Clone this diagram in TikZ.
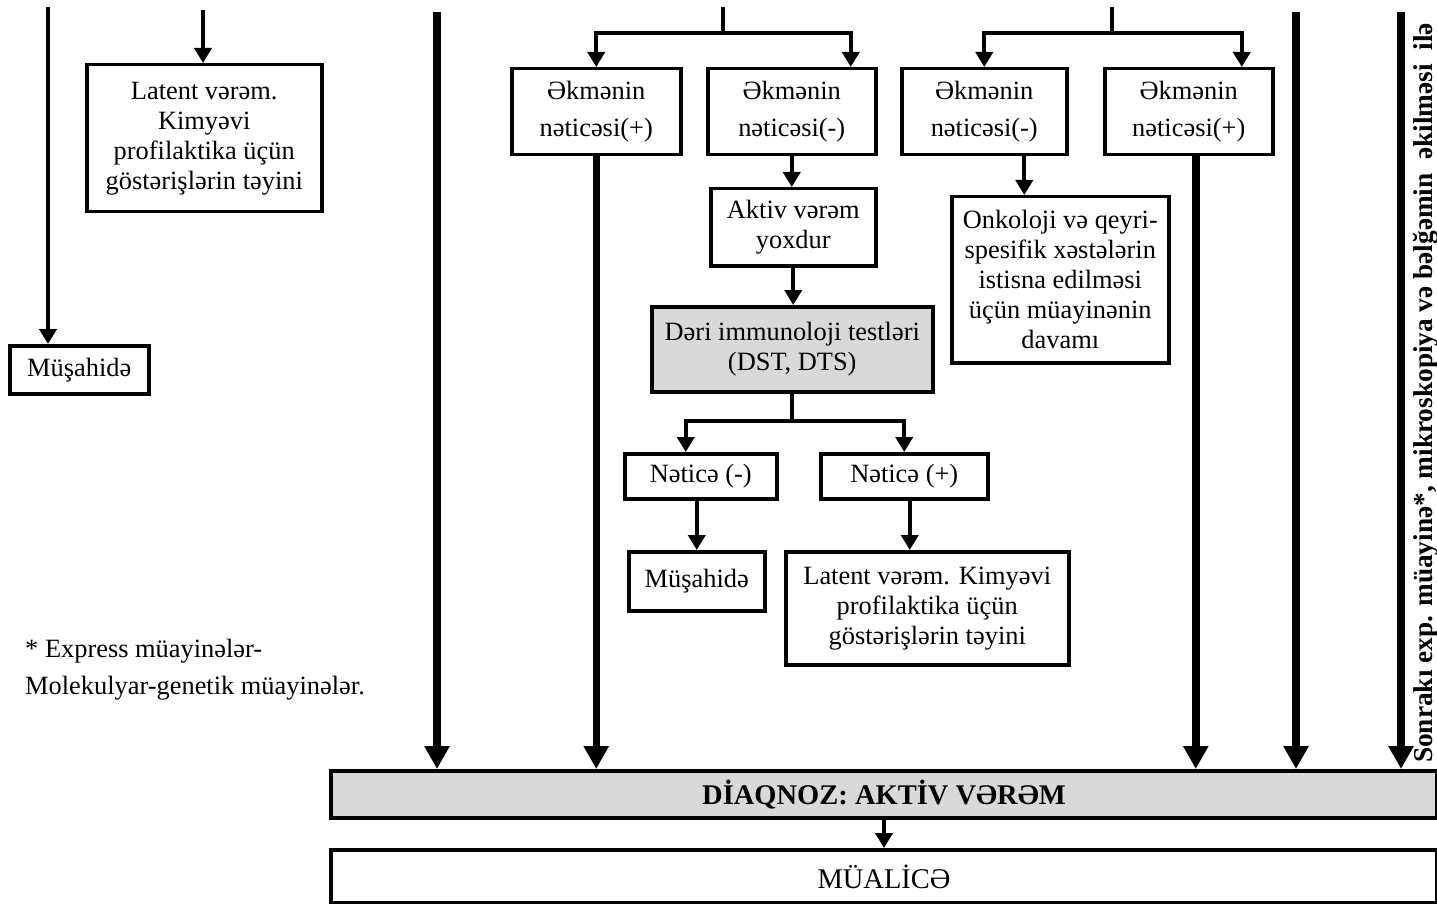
\documentclass[tikz,border=0pt]{standalone}
\usepackage{fontspec}
\setmainfont{Liberation Serif}
\usetikzlibrary{arrows.meta,calc}
\definecolor{boxgray}{HTML}{D9D9D9}
\begin{document}
\begin{tikzpicture}[x=1pt,y=-1pt,
 box/.style={draw, line width=3.5pt, inner sep=0pt, align=center, anchor=north west, font=\fontsize{26.4}{30}\selectfont},
 gbox/.style={box, fill=boxgray},
 twoline/.style={font=\fontsize{26.4}{37}\selectfont},
 thinarr/.style={line width=4pt, -{Triangle[width=17pt,length=15pt]}},
 thickarr/.style={line width=7.5pt, -{Triangle[width=24pt,length=23pt]}},
 plain/.style={line width=4pt},
]
\useasboundingbox (0,0) rectangle (1437,904);

% boxes
\node[box, twoline, minimum width=169, minimum height=86] (b1) at (510,67) {Əkmənin\\nəticəsi(+)};
\node[box, twoline, minimum width=168, minimum height=86] (b2) at (706,67) {Əkmənin\\nəticəsi(-)};
\node[box, twoline, minimum width=165, minimum height=86] (b3) at (900,67) {Əkmənin\\nəticəsi(-)};
\node[box, twoline, minimum width=168, minimum height=86] (b4) at (1103,67) {Əkmənin\\nəticəsi(+)};
\node[box, minimum width=235, minimum height=147] (lat1) at (85,63) {Latent vərəm.\\Kimyəvi\\profilaktika üçün\\göstərişlərin təyini};
\node[box, minimum width=139, minimum height=48] (mus1) at (8,344) {Müşahidə};
\node[box, minimum width=165, minimum height=77] (akt) at (709,187) {Aktiv vərəm\\yoxdur};
\node[box, minimum width=217, minimum height=166] (onk) at (950,195) {Onkoloji və qeyri-\\spesifik xəstələrin\\istisna edilməsi\\üçün müayinənin\\davamı};
\node[gbox, minimum width=281, minimum height=85] (der) at (650,305) {Dəri immunoloji testləri\\(DST, DTS)};
\node[box, minimum width=152, minimum height=45] (n1) at (623,452) {Nəticə (-)};
\node[box, minimum width=167, minimum height=45] (n2) at (819,452) {Nəticə (+)};
\node[box, minimum width=136, minimum height=59] (mus2) at (627,550) {Müşahidə};
\node[box, minimum width=283, minimum height=113] (lat2) at (784,550) {Latent vərəm. Kimyəvi\\profilaktika üçün\\göstərişlərin təyini};
\node[gbox, line width=4pt, minimum width=1106, minimum height=47, font=\fontsize{28.5}{32}\selectfont\bfseries] (diag) at (329,769) {DİAQNOZ: AKTİV VƏRƏM};
\node[box, line width=4pt, minimum width=1106, minimum height=53, font=\fontsize{28.5}{32}\selectfont] (mual) at (329,848) {MÜALİCƏ};

% footnote
\node[anchor=north west, align=left, inner sep=0pt, font=\fontsize{26.4}{37}\selectfont] (note) at (25,639) {* Express müayinələr-\\Molekulyar-genetik müayinələr.};

% side text
\node[rotate=90, inner sep=0pt, font=\fontsize{27.3}{30}\selectfont\bfseries] (side) at (1426,393) {Sonrakı exp. müayinə*, mikroskopiya və bəlğəmin~~əkilməsi~~ilə};

% free starts
\coordinate (tL) at (48,7);
\coordinate (tA) at (203,10);
\coordinate (tT1) at (437,12);
\coordinate (s1) at (723,7);
\coordinate (j1) at (723,33);
\coordinate (s2) at (1112,7);
\coordinate (j2) at (1112,33);
\coordinate (tT2) at (1296,12);
\coordinate (tT3) at (1401,12);
\coordinate (j3) at ($(der.south)+(0,27)$);

% connectors
\draw[thinarr] (tL) -- (tL |- mus1.north);
\draw[thinarr] (tA) -- (tA |- lat1.north);
\draw[thickarr] (tT1) -- (tT1 |- diag.north);
\draw[plain] (s1) -- (j1);
\draw[thinarr] (j1) -| (b1.north);
\draw[thinarr] (j1) -| ([xshift=59pt]b2.north);
\draw[thickarr] (b1.south) -- (b1.south |- diag.north);
\draw[thinarr] (b2.south) -- (b2.south |- akt.north);
\draw[thinarr] (akt.south) -- (akt.south |- der.north);
\draw[plain] (der.south) -- (j3);
\draw[thinarr] (j3) -| ([xshift=-15pt]n1.north);
\draw[thinarr] (j3) -| (n2.north);
\draw[thinarr] (n1.south -| mus2.north) -- (mus2.north);
\draw[thinarr] ([xshift=5.5pt]n2.south) -- ([xshift=5.5pt]n2.south |- lat2.north);
\draw[plain] (s2) -- (j2);
\draw[thinarr] (j2) -| (b3.north);
\draw[thinarr] (j2) -| ([xshift=53pt]b4.north);
\draw[thinarr] ([xshift=40pt]b3.south) -- ([xshift=40pt]b3.south |- onk.north);
\draw[thickarr] ([xshift=7pt]b4.south) -- ([xshift=7pt]b4.south |- diag.north);
\draw[thickarr] (tT2) -- (tT2 |- diag.north);
\draw[thickarr] (tT3) -- (tT3 |- diag.north);
\draw[thinarr] (diag.south) -- (mual.north);
\end{tikzpicture}
\end{document}
